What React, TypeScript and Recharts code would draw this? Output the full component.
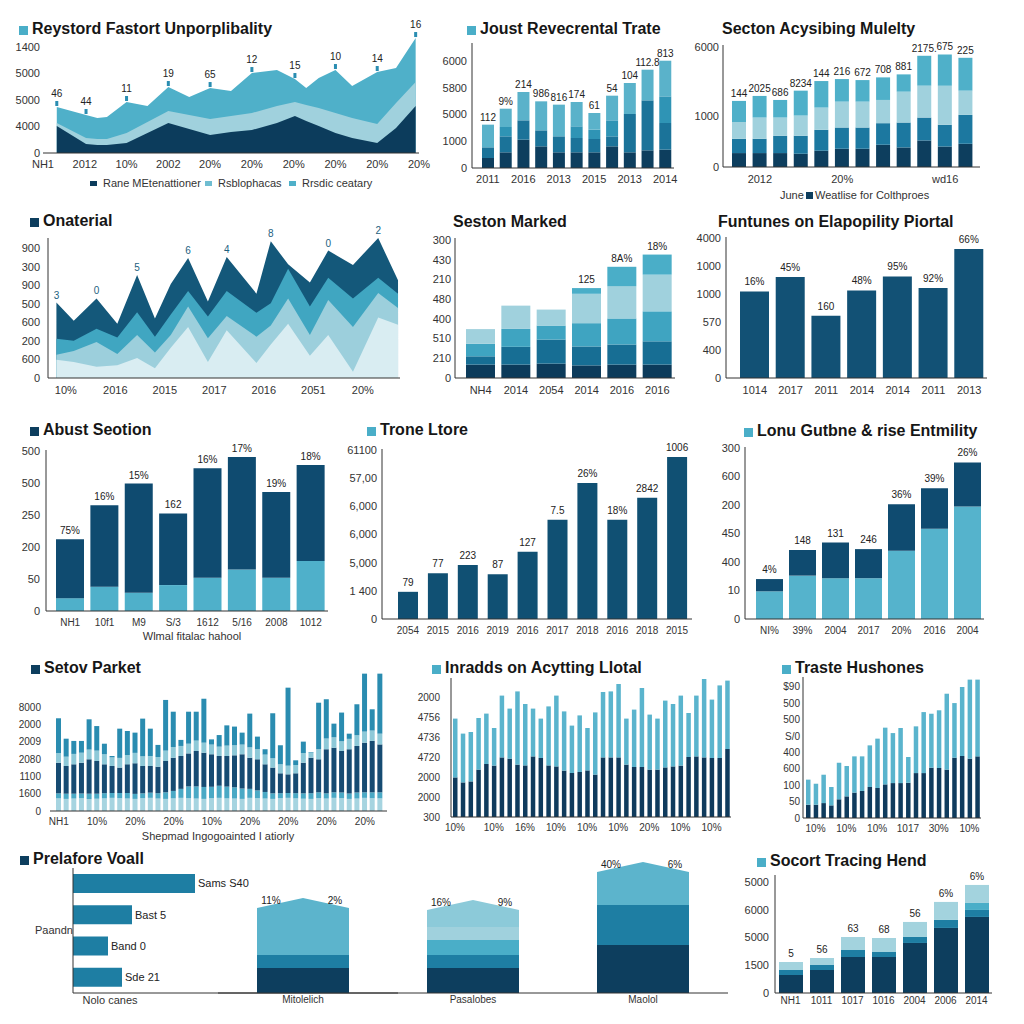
import React from 'react';
import { AreaChart, Area, BarChart, Bar, XAxis, YAxis, LabelList, Cell } from 'recharts';

const FONT = '"Liberation Sans", Arial, sans-serif';
const NAVY = '#0d3e5e';
const MID = '#1c78a0';
const TEAL = '#4aaec8';
const PALE = '#a0d1dd';
const INK = '#333';
const MT = 16; // room above each plot for value tags

// ---- panel 1: Reystord Fastort Unporplibality (area) ----
const p1X = [0.33, 1.03, 1.3, 1.53, 2, 2.5, 3, 3.5, 4, 4.5, 5, 5.6, 6.03, 6.3, 6.6, 7, 7.4, 8, 8.45, 8.92];
const p1Top = [1735, 1433, 1320, 1357, 1923, 1772, 2488, 2111, 2450, 2337, 3016, 3129, 2790, 2450, 2828, 3129, 2526, 3054, 3205, 4336];
const p1Mid = [1131, 565, 528, 528, 754, 1169, 1583, 1433, 1282, 1395, 1508, 1772, 1923, 1810, 1697, 1508, 1320, 1093, 1885, 2677];
const p1Dark = [1018, 339, 302, 302, 377, 754, 1131, 905, 679, 792, 867, 1131, 1395, 1206, 1018, 754, 565, 377, 943, 1772];
const p1Tags = ['46', '44', '', '', '11', '', '19', '', '65', '', '12', '', '15', '', '', '10', '', '14', '', '16'];
const p1XTicks = [0, 1, 2, 3, 4, 5, 6, 7, 8, 9];
const p1XLabels = ['NH1', '2012', '10%', '2002', '20%', '20%', '20%', '20%', '20%', '20%'];
const p1YTicks = [0, 1000, 2000, 3000, 4000];
const p1YLabels = ['0', '4000', '5000', '5000', '1400'];
const p1Legend = ['Rane MEtenattioner', 'Rsblophacas', 'Rrsdic ceatary'];

// ---- panel 2: Joust Revecrental Trate ----
const p2S1 = [374, 587, 1061, 811, 587, 587, 587, 811, 587, 661, 686];
const p2S2 = [400, 599, 724, 599, 599, 537, 499, 374, 1435, 1872, 998];
const p2S3 = [0, 349, 0, 0, 0, 437, 349, 599, 0, 0, 998];
const p2S4 = [849, 686, 1061, 1086, 1186, 911, 624, 924, 1161, 1148, 1335];
const p2Tags = ['112', '9%', '214', '986', '816', '174', '61', '54', '104', '112.8', '813'];
const p2XLabels = ['2011', '', '2016', '', '2013', '', '2015', '', '2013', '', '2014'];
const p2YTicks = [0, 1000, 2000, 3000, 4000];
const p2YLabels = ['0', '1000', '5000', '5800', '6000'];

// ---- panel 3: Secton Acysibing Mulelty ----
const p3S1 = [274, 274, 274, 261, 320, 359, 359, 438, 385, 522, 405, 457];
const p3S2 = [281, 281, 340, 353, 411, 418, 418, 424, 490, 451, 424, 568];
const p3S3 = [327, 418, 359, 398, 438, 509, 509, 457, 607, 627, 771, 477];
const p3S4 = [418, 425, 346, 490, 522, 444, 424, 444, 340, 588, 614, 646];
const p3Tags = ['144', '2025', '686', '8234', '144', '216', '672', '708', '881', '2175.', '675', '225'];
const p3XLabels = ['', '2012', '', '', '', '20%', '', '', '', '', 'wd16', ''];
const p3YTicks = [0, 1000, 2350];
const p3YLabels = ['0', '1000', '6000'];

// ---- panel 4: Onaterial (area) ----
const p4X = [-0.19, 0.16, 0.62, 1.04, 1.44, 1.8, 2.12, 2.47, 2.87, 3.25, 3.85, 4.14, 4.49, 4.93, 5.3, 5.8, 6.31, 6.71];
const p4A = [407, 309, 429, 292, 555, 321, 507, 647, 412, 652, 455, 738, 613, 515, 687, 610, 755, 527];
const p4B = [211, 201, 266, 218, 355, 223, 343, 469, 331, 469, 352, 403, 589, 386, 541, 429, 541, 455];
const p4C = [125, 146, 194, 129, 232, 137, 232, 386, 215, 335, 223, 283, 429, 232, 421, 275, 458, 378];
const p4D = [98, 86, 60, 69, 108, 52, 163, 275, 86, 258, 81, 180, 292, 120, 232, 34, 326, 287];
const p4Tags = ['3', '', '0', '', '5', '', '', '6', '', '4', '', '8', '', '', '0', '', '2', ''];
const p4XTicks = [0, 1, 2, 3, 4, 5, 6];
const p4XLabels = ['10%', '2016', '2015', '2017', '2016', '2051', '20%'];
const p4YTicks = [0, 100, 200, 300, 400, 500, 600, 700];
const p4YLabels = ['0', '600', '200', '600', '500', '900', '300', '900'];

// ---- panel 5: Seston Marked ----
const p5S1 = [68, 68, 73, 64, 68, 68];
const p5S2 = [42, 90, 122, 96, 102, 118];
const p5S3 = [64, 91, 71, 118, 132, 152];
const p5S4 = [74, 118, 81, 149, 164, 186];
const p5S5 = [0, 0, 0, 29, 98, 102];
const p5Tags = ['535', '16%', '28%', '125', '8A%', '18%'];
const p5XLabels = ['NH4', '2014', '2054', '2014', '2016', '2016'];
const p5YTicks = [0, 100, 200, 300, 400, 500, 600, 700];
const p5YLabels = ['0', '210', '510', '400', '480', '210', '430', '300'];

// ---- panel 6: Funtunes on Elapopility Piortal ----
const p6Vals = [3095, 3607, 2226, 3131, 3631, 3214, 4607];
const p6Tags = ['16%', '45%', '160', '48%', '95%', '92%', '66%'];
const p6XLabels = ['1014', '2017', '2011', '2014', '2014', '2011', '2013'];
const p6YTicks = [0, 1000, 2000, 3000, 4000, 5000];
const p6YLabels = ['0', '400', '570', '1000', '1000', '4000'];

// ---- panel 7: Abust Seotion ----
const p7Light = [40, 76, 57, 81, 104, 130, 104, 156];
const p7Total = [224, 330, 398, 305, 446, 481, 372, 456];
const p7Tags = ['75%', '16%', '15%', '162', '16%', '17%', '19%', '18%'];
const p7XLabels = ['NH1', '10f1', 'M9', 'S/3', '1612', '5/16', '2008', '1012'];
const p7YTicks = [0, 100, 200, 300, 400, 500];
const p7YLabels = ['0', '50', '200', '250', '500', '500'];

// ---- panel 8: Trone Ltore ----
const p8Vals = [964, 1619, 1917, 1583, 2381, 3524, 4821, 3524, 4298, 5750];
const p8Tags = ['79', '77', '223', '87', '127', '7.5', '26%', '18%', '2842', '1006'];
const p8XLabels = ['2054', '2015', '2016', '2019', '2016', '2017', '2018', '2016', '2018', '2015'];
const p8YTicks = [0, 1000, 2000, 3000, 4000, 5000, 6000];
const p8YLabels = ['0', '1 400', '5,000', '6,000', '6,000', '57,00', '61100'];

// ---- panel 9: Lonu Gutbne & rise Entmility ----
const p9Light = [97, 152, 143, 143, 239, 316, 394];
const p9Total = [140, 242, 268, 245, 402, 458, 549];
const p9Tags = ['4%', '148', '131', '246', '36%', '39%', '26%'];
const p9XLabels = ['NI%', '39%', '2004', '2017', '20%', '2016', '2004'];
const p9YTicks = [0, 100, 200, 300, 400, 500, 600];
const p9YLabels = ['0', '10', '400', '450', '200', '600', '300'];

// ---- panel 10: Setov Parket ----
const p10Total = [5360, 4180, 4050, 4050, 5300, 4910, 3890, 3180, 4760, 4630, 4530, 5340, 4760, 3820, 6420, 5740, 4110, 5740, 5740, 6490, 4140, 4390, 4950, 4880, 4530, 5630, 4300, 3570, 5650, 3800, 7130, 2930, 4010, 3410, 6260, 6460, 5050, 5690, 4470, 6170, 7940, 5880, 7940];
const p10NavyTop = [2790, 2600, 2700, 2790, 2990, 2890, 2700, 2600, 2510, 2700, 2760, 2600, 2600, 2560, 2890, 3080, 3180, 3330, 3470, 3370, 3280, 3180, 3180, 3220, 3280, 3080, 2990, 2700, 2510, 2180, 2120, 2180, 2790, 3080, 2990, 3570, 3660, 3470, 3570, 3760, 3950, 4050, 3850];
const p10Base = [730, 700, 720, 740, 690, 710, 730, 760, 740, 720, 700, 740, 760, 720, 700, 730, 760, 740, 720, 700, 740, 760, 730, 720, 700, 760, 740, 720, 700, 740, 760, 730, 710, 700, 740, 720, 760, 740, 700, 720, 760, 740, 730];
const p10Band = [290, 300, 280, 270, 310, 290, 300, 280, 300, 320, 290, 280, 300, 310, 380, 430, 520, 680, 700, 690, 660, 700, 680, 650, 600, 520, 450, 380, 320, 290, 280, 300, 310, 330, 340, 300, 320, 330, 310, 350, 320, 340, 350];
const p10Pale = [560, 540, 600, 580, 560, 600, 580, 500, 560, 540, 600, 560, 580, 560, 600, 620, 580, 560, 600, 580, 560, 540, 600, 580, 560, 600, 580, 560, 540, 520, 500, 480, 560, 300, 580, 620, 600, 560, 600, 620, 640, 600, 620];
const p10TickIdx = [0, 5, 10, 15, 20, 25, 30, 35, 40];
const p10TickLab = ['NH1', '10%', '20%', '20%', '10%', '20%', '20%', '20%', '20%'];
const p10YTicks = [0, 1000, 2000, 3000, 4000, 5000, 6000];
const p10YLabels = ['0', '1600', '1100', '2080', '2009', '2000', '8000'];

// ---- panel 11: Inradds on Acytting Llotal ----
const p11Total = [4920, 4170, 4250, 4950, 5170, 4450, 6070, 5420, 6280, 5650, 5420, 4920, 5530, 6070, 5280, 4570, 5080, 4450, 5230, 6250, 6280, 6650, 4920, 5370, 6450, 5120, 4920, 5820, 5650, 6070, 5200, 6070, 6900, 5870, 6580, 6820];
const p11Navy = [1980, 1730, 1780, 2370, 2650, 2570, 2980, 2920, 2620, 2580, 3030, 2950, 2580, 2530, 2320, 2200, 2250, 2330, 2120, 2980, 2980, 2980, 2620, 2500, 2500, 2370, 2370, 2480, 2530, 2570, 3000, 3030, 2980, 2950, 2950, 3400];
const p11TickIdx = [0, 5, 9, 13, 17, 21, 25, 29, 33];
const p11TickLab = ['10%', '10%', '16%', '10%', '10%', '10%', '20%', '10%', '10%'];
const p11YTicks = [0, 1000, 2000, 3000, 4000, 5000, 6000];
const p11YLabels = ['300', '2000', '2000', '4720', '4736', '4756', '2000'];

// ---- panel 12: Traste Hushones ----
const p12Total = [234, 209, 264, 189, 337, 317, 376, 376, 443, 484, 551, 518, 549, 372, 559, 646, 636, 657, 758, 701, 799, 844, 844];
const p12Navy = [81, 81, 91, 77, 114, 132, 155, 165, 189, 183, 205, 213, 213, 215, 274, 274, 307, 305, 295, 368, 378, 362, 376];
const p12TickIdx = [1, 5, 9, 13, 17, 21];
const p12TickLab = ['10%', '10%', '10%', '1017', '30%', '10%'];
const p12YTicks = [0, 100, 200, 300, 400, 500, 600, 700, 800];
const p12YLabels = ['0', '50', '100', '600', '400', 'S/0', '500', '500', '$90'];

// ---- panel 13: Prelafore Voall ----
const p13Vals = [122, 59, 35, 49];
const p13Tags = ['Sams S40', 'Bast 5', 'Band 0', 'Sde 21'];
const p14Cats = ['Mitolelich', 'Pasalobes', 'Maolol'];
const p14Navy = [25, 25, 48];
const p14Mid = [13, 13, 40];
const p14Teal = [0, 15, 0];
const p14Pale = [0, 13, 0];
const p14Top = [57, 27, 43];
const p14TopColors = ['#5cb4cc', '#8ccad9', '#5cb4cc'];
const p14LeftTags = ['11%', '16%', '40%'];
const p14RightTags = ['2%', '9%', '6%'];

// ---- panel 15: Socort Tracing Hend ----
const p15S1 = [649, 829, 1297, 1297, 1802, 2343, 2739];
const p15S2 = [180, 180, 252, 180, 216, 288, 252];
const p15S3 = [0, 0, 0, 0, 0, 0, 252];
const p15S4 = [288, 252, 469, 505, 541, 649, 649];
const p15Tags = ['5', '56', '63', '68', '56', '6%', '6%'];
const p15XLabels = ['NH1', '1011', '1017', '1016', '2004', '2006', '2014'];
const p15YTicks = [0, 1000, 2000, 3000, 4000];
const p15YLabels = ['0', '1500', '5000', '6000', '5000'];

const lab = (ticks: number[], labels: string[]) => (v: number) => labels[ticks.indexOf(v)] ?? '';
const pick = (idx: number[], labels: string[]) => (_v: any, i: number) => {
  const j = idx.indexOf(i);
  return j >= 0 ? labels[j] : '';
};
const tick11 = { fontSize: 11, fill: INK, fontFamily: FONT };
const tick10 = { fontSize: 10, fill: INK, fontFamily: FONT };
const line = { stroke: INK, strokeWidth: 1 };
const tagStyle = { fontSize: 10, fill: '#222', fontFamily: FONT };

// plotTop is where the plot area starts; the svg begins MT px higher
function Place({ left, plotTop, children }: any) {
  return <div style={{ position: 'absolute', left, top: plotTop - MT }}>{children}</div>;
}

function Title({ x, y, text, marker }: { x: number; y: number; text: string; marker?: string }) {
  return (
    <div style={{ position: 'absolute', left: x, top: y - 8, height: 22, lineHeight: '22px', whiteSpace: 'nowrap', font: `bold 16px ${FONT}`, color: '#161616' }}>
      {marker && <span style={{ position: 'absolute', left: -13, top: 6, width: 9, height: 9, background: marker }} />}
      {text}
    </div>
  );
}

function Note({ x, y, text, size = 11, center = false }: any) {
  return (
    <div style={{ position: 'absolute', left: x, top: y - 7, lineHeight: '14px', whiteSpace: 'nowrap', fontSize: size, fontFamily: FONT, color: INK, transform: center ? 'translateX(-50%)' : undefined }}>
      {text}
    </div>
  );
}

function Swatch({ x, y, color, w = 7, h = 5 }: any) {
  return <div style={{ position: 'absolute', left: x, top: y - h / 2, width: w, height: h, background: color }} />;
}

const makeDot = (tags: string[], marker: boolean) => (p: any) => {
  const { cx, cy, index } = p;
  const t = tags[index];
  if (!t) return <g key={index} />;
  return (
    <g key={index}>
      {marker && <rect x={cx - 1.5} y={cy - 6} width={3} height={5} fill="#2a8db1" />}
      <text x={cx} y={cy - (marker ? 10 : 4)} textAnchor="middle" {...tagStyle} fill={marker ? '#222' : '#1d5f80'}>{t}</text>
    </g>
  );
};

const House = (p: any) => {
  const { x, y, width, height, fill, index } = p;
  if (!height) return <g />;
  const d = 10;
  const pts = `${x},${y + height} ${x},${y + d} ${x + width / 2},${y} ${x + width},${y + d} ${x + width},${y + height}`;
  return (
    <g>
      <polygon points={pts} fill={fill} />
      <text x={x + 14} y={y + d - 4} textAnchor="middle" {...tagStyle}>{p14LeftTags[index]}</text>
      <text x={x + width - 14} y={y + d - 4} textAnchor="middle" {...tagStyle}>{p14RightTags[index]}</text>
    </g>
  );
};

export default function App() {
  const p1Data = p1X.map((x, i) => ({ x, top: p1Top[i], mid: p1Mid[i], dark: p1Dark[i] }));
  const p2Data = p2S1.map((v, i) => ({ k: i, s1: v, s2: p2S2[i], s3: p2S3[i], s4: p2S4[i], tag: p2Tags[i] }));
  const p3Data = p3S1.map((v, i) => ({ k: i, s1: v, s2: p3S2[i], s3: p3S3[i], s4: p3S4[i], tag: p3Tags[i] }));
  const p4Data = p4X.map((x, i) => ({ x, a: p4A[i], b: p4B[i], c: p4C[i], d: p4D[i] }));
  const p5Data = p5S1.map((v, i) => ({ k: i, s1: v, s2: p5S2[i], s3: p5S3[i], s4: p5S4[i], s5: p5S5[i], tag: p5Tags[i] }));
  const p6Data = p6Vals.map((v, i) => ({ k: i, v, tag: p6Tags[i] }));
  const p7Data = p7Total.map((t, i) => ({ k: i, light: p7Light[i], navy: t - p7Light[i], tag: p7Tags[i] }));
  const p8Data = p8Vals.map((v, i) => ({ k: i, v, tag: p8Tags[i] }));
  const p9Data = p9Total.map((t, i) => ({ k: i, light: p9Light[i], navy: t - p9Light[i], tag: p9Tags[i] }));
  const p10Data = p10Total.map((t, i) => ({
    k: i,
    s1: p10Base[i],
    s2: p10Band[i],
    s3: p10NavyTop[i] - p10Base[i] - p10Band[i],
    s4: p10Pale[i],
    s5: t - p10NavyTop[i] - p10Pale[i],
  }));
  const p11Data = p11Total.map((t, i) => ({ k: i, navy: p11Navy[i], light: t - p11Navy[i] }));
  const p12Data = p12Total.map((t, i) => ({ k: i, navy: p12Navy[i], light: t - p12Navy[i] }));
  const p13Data = p13Vals.map((v, i) => ({ k: i, v, tag: p13Tags[i] }));
  const p14Data = p14Cats.map((c, i) => ({ c, s1: p14Navy[i], s2: p14Mid[i], s3: p14Teal[i], s4: p14Pale[i], s5: p14Top[i] }));
  const p15Data = p15S1.map((v, i) => ({ k: i, s1: v, s2: p15S2[i], s3: p15S3[i], s4: p15S4[i], tag: p15Tags[i] }));

  const noAnim = { isAnimationActive: false };
  const m = (right: number) => ({ top: MT, right, bottom: 0, left: 0 });

  return (
    <div style={{ position: 'relative', width: 1024, height: 1024, background: '#fff', overflow: 'hidden', fontFamily: FONT }}>
      <style>{'body{margin:0}'}</style>

      {/* Row 1 */}
      <Title x={32} y={28} text="Reystord Fastort Unporplibality" marker={TEAL} />
      <Place left={0} plotTop={35}>
        <AreaChart width={436} height={118 + 20 + MT} data={p1Data} margin={m(17)}>
          <XAxis type="number" dataKey="x" domain={[0, 9]} ticks={p1XTicks} interval={0} tickFormatter={lab(p1XTicks, p1XLabels)} tick={tick11} tickLine={false} tickSize={0} tickMargin={7} axisLine={line} height={20} />
          <YAxis domain={[0, 4450]} ticks={p1YTicks} interval={0} tickFormatter={lab(p1YTicks, p1YLabels)} tick={tick11} tickLine={false} tickSize={0} tickMargin={3} axisLine={false} width={43} />
          <Area type="linear" dataKey="top" fill="#4fb0c9" fillOpacity={1} stroke="none" dot={makeDot(p1Tags, true)} {...noAnim} />
          <Area type="linear" dataKey="mid" fill={PALE} fillOpacity={1} stroke="none" dot={false} {...noAnim} />
          <Area type="linear" dataKey="dark" fill="#0c3c5c" fillOpacity={1} stroke="none" dot={false} {...noAnim} />
        </AreaChart>
      </Place>
      <Swatch x={90} y={183} color="#0c3c5c" />
      <Note x={103} y={183} text={p1Legend[0]} />
      <Swatch x={205} y={183} color="#6fbdd1" />
      <Note x={218} y={183} text={p1Legend[1]} />
      <Swatch x={289} y={183} color="#4fb0c9" />
      <Note x={302} y={183} text={p1Legend[2]} />

      <Title x={480} y={28} text="Joust Revecrental Trate" marker={TEAL} />
      <Place left={430} plotTop={43}>
        <BarChart width={248} height={125 + 20 + MT} data={p2Data} margin={m(4)} barSize={12}>
          <XAxis dataKey="k" interval={0} tickFormatter={(_v: any, i: number) => p2XLabels[i]} tick={tick11} tickLine={false} tickSize={0} tickMargin={7} axisLine={line} height={20} padding={{ left: 7, right: 0 }} />
          <YAxis domain={[0, 4680]} ticks={p2YTicks} interval={0} tickFormatter={lab(p2YTicks, p2YLabels)} tick={tick11} tickLine={false} tickSize={0} tickMargin={5} axisLine={line} width={42} />
          <Bar dataKey="s1" stackId="a" fill={NAVY} {...noAnim} />
          <Bar dataKey="s2" stackId="a" fill="#1b7399" {...noAnim} />
          <Bar dataKey="s3" stackId="a" fill="#2f94b5" {...noAnim} />
          <Bar dataKey="s4" stackId="a" fill="#5ab2ca" {...noAnim}>
            <LabelList dataKey="tag" position="top" offset={4} {...tagStyle} />
          </Bar>
        </BarChart>
      </Place>

      <Title x={722} y={28} text="Secton Acysibing Mulelty" />
      <Place left={688} plotTop={45}>
        <BarChart width={296} height={122 + 20 + MT} data={p3Data} margin={m(4)} barSize={14}>
          <XAxis dataKey="k" interval={0} tickFormatter={(_v: any, i: number) => p3XLabels[i]} tick={tick11} tickLine={false} tickSize={0} tickMargin={8} axisLine={line} height={20} padding={{ left: 6, right: 4 }} />
          <YAxis domain={[0, 2400]} ticks={p3YTicks} interval={0} tickFormatter={lab(p3YTicks, p3YLabels)} tick={tick11} tickLine={false} tickSize={0} tickMargin={4} axisLine={line} width={35} />
          <Bar dataKey="s1" stackId="a" fill={NAVY} {...noAnim} />
          <Bar dataKey="s2" stackId="a" fill={MID} {...noAnim} />
          <Bar dataKey="s3" stackId="a" fill={PALE} {...noAnim} />
          <Bar dataKey="s4" stackId="a" fill="#4fb0c9" {...noAnim}>
            <LabelList dataKey="tag" position="top" offset={4} {...tagStyle} />
          </Bar>
        </BarChart>
      </Place>
      <Note x={780} y={195} text="June" />
      <Swatch x={806} y={195} color={NAVY} w={7} h={7} />
      <Note x={815} y={195} text="Weatlise for Colthproes" />

      {/* Row 2 */}
      <Title x={43} y={220} text="Onaterial" marker={NAVY} />
      <Place left={0} plotTop={238}>
        <AreaChart width={404} height={140 + 22 + MT} data={p4Data} margin={m(4)}>
          <XAxis type="number" dataKey="x" domain={[-0.36, 6.75]} ticks={p4XTicks} interval={0} tickFormatter={lab(p4XTicks, p4XLabels)} tick={tick11} tickLine={false} tickSize={0} tickMargin={8} axisLine={line} height={22} />
          <YAxis domain={[0, 720]} ticks={p4YTicks} interval={0} tickFormatter={lab(p4YTicks, p4YLabels)} tick={tick11} tickLine={false} tickSize={0} tickMargin={8} axisLine={line} width={48} />
          <Area type="linear" dataKey="a" fill="#14587a" fillOpacity={1} stroke="none" dot={makeDot(p4Tags, false)} {...noAnim} />
          <Area type="linear" dataKey="b" fill="#40a6c1" fillOpacity={1} stroke="none" dot={false} {...noAnim} />
          <Area type="linear" dataKey="c" fill="#9ccfdc" fillOpacity={1} stroke="none" dot={false} {...noAnim} />
          <Area type="linear" dataKey="d" fill="#d9edf2" fillOpacity={1} stroke="none" dot={false} {...noAnim} />
        </AreaChart>
      </Place>

      <Title x={453} y={221} text="Seston Marked" />
      <Place left={420} plotTop={238}>
        <BarChart width={259} height={140 + 22 + MT} data={p5Data} margin={m(4)} barSize={29}>
          <XAxis dataKey="k" interval={0} tickFormatter={(_v: any, i: number) => p5XLabels[i]} tick={tick11} tickLine={false} tickSize={0} tickMargin={8} axisLine={line} height={22} padding={{ left: 8, right: 0 }} />
          <YAxis domain={[0, 710]} ticks={p5YTicks} interval={0} tickFormatter={lab(p5YTicks, p5YLabels)} tick={tick11} tickLine={false} tickSize={0} tickMargin={4} axisLine={line} width={35} />
          <Bar dataKey="s1" stackId="a" fill="#0c3b5b" {...noAnim} />
          <Bar dataKey="s2" stackId="a" fill="#176e94" {...noAnim} />
          <Bar dataKey="s3" stackId="a" fill="#3fa4c1" {...noAnim} />
          <Bar dataKey="s4" stackId="a" fill={PALE} {...noAnim} />
          <Bar dataKey="s5" stackId="a" fill="#4aaec8" {...noAnim}>
            <LabelList dataKey="tag" position="top" offset={5} {...tagStyle} />
          </Bar>
        </BarChart>
      </Place>

      <Title x={718} y={221} text="Funtunes on Elapopility Piortal" />
      <Place left={686} plotTop={237}>
        <BarChart width={305} height={141 + 22 + MT} data={p6Data} margin={m(4)} barSize={29}>
          <XAxis dataKey="k" interval={0} tickFormatter={(_v: any, i: number) => p6XLabels[i]} tick={tick11} tickLine={false} tickSize={0} tickMargin={8} axisLine={line} height={22} padding={{ left: 11, right: 0 }} />
          <YAxis domain={[0, 5040]} ticks={p6YTicks} interval={0} tickFormatter={lab(p6YTicks, p6YLabels)} tick={tick11} tickLine={false} tickSize={0} tickMargin={5} axisLine={line} width={40} />
          <Bar dataKey="v" fill="#125175" {...noAnim}>
            <LabelList dataKey="tag" position="top" offset={6} {...tagStyle} />
          </Bar>
        </BarChart>
      </Place>

      {/* Row 3 */}
      <Title x={43} y={429} text="Abust Seotion" marker={NAVY} />
      <Place left={0} plotTop={450}>
        <BarChart width={332} height={161 + 20 + MT} data={p7Data} margin={m(4)} barSize={28}>
          <XAxis dataKey="k" interval={0} tickFormatter={(_v: any, i: number) => p7XLabels[i]} tick={tick10} tickLine={false} tickSize={0} tickMargin={8} axisLine={line} height={20} padding={{ left: 7, right: 0 }} />
          <YAxis domain={[0, 503]} ticks={p7YTicks} interval={0} tickFormatter={lab(p7YTicks, p7YLabels)} tick={tick11} tickLine={false} tickSize={0} tickMargin={6} axisLine={line} width={46} />
          <Bar dataKey="light" stackId="a" fill="#4fb0ca" {...noAnim} />
          <Bar dataKey="navy" stackId="a" fill="#0f4b70" {...noAnim}>
            <LabelList dataKey="tag" position="top" offset={5} {...tagStyle} />
          </Bar>
        </BarChart>
      </Place>
      <Note x={192} y={636} text="Wlmal fitalac hahool" center />

      <Title x={380} y={429} text="Trone Ltore" marker={TEAL} />
      <Place left={340} plotTop={449}>
        <BarChart width={356} height={170 + 22 + MT} data={p8Data} margin={m(4)} barSize={20}>
          <XAxis dataKey="k" interval={0} tickFormatter={(_v: any, i: number) => p8XLabels[i]} tick={tick10} tickLine={false} tickSize={0} tickMargin={8} axisLine={line} height={22} padding={{ left: 11, right: 0 }} />
          <YAxis domain={[0, 6030]} ticks={p8YTicks} interval={0} tickFormatter={lab(p8YTicks, p8YLabels)} tick={tick11} tickLine={false} tickSize={0} tickMargin={5} axisLine={line} width={42} />
          <Bar dataKey="v" fill="#105073" {...noAnim}>
            <LabelList dataKey="tag" position="top" offset={6} {...tagStyle} />
          </Bar>
        </BarChart>
      </Place>

      <Title x={757} y={430} text="Lonu Gutbne & rise Entmility" marker={TEAL} />
      <Place left={705} plotTop={447}>
        <BarChart width={283} height={172 + 22 + MT} data={p9Data} margin={m(4)} barSize={27}>
          <XAxis dataKey="k" interval={0} tickFormatter={(_v: any, i: number) => p9XLabels[i]} tick={tick10} tickLine={false} tickSize={0} tickMargin={8} axisLine={line} height={22} padding={{ left: 8, right: 0 }} />
          <YAxis domain={[0, 603]} ticks={p9YTicks} interval={0} tickFormatter={lab(p9YTicks, p9YLabels)} tick={tick11} tickLine={false} tickSize={0} tickMargin={5} axisLine={line} width={40} />
          <Bar dataKey="light" stackId="a" fill="#55b3cc" {...noAnim} />
          <Bar dataKey="navy" stackId="a" fill="#0f4b70" {...noAnim}>
            <LabelList dataKey="tag" position="top" offset={6} {...tagStyle} />
          </Bar>
        </BarChart>
      </Place>

      {/* Row 4 */}
      <Title x={44} y={667} text="Setov Parket" marker={NAVY} />
      <Place left={0} plotTop={672}>
        <BarChart width={391} height={139 + 20 + MT} data={p10Data} margin={m(4)} barSize={5}>
          <XAxis dataKey="k" interval={0} tickFormatter={pick(p10TickIdx, p10TickLab)} tick={tick10} tickLine={false} tickSize={0} tickMargin={7} axisLine={line} height={20} padding={{ left: 5, right: 3 }} />
          <YAxis domain={[0, 8035]} ticks={p10YTicks} interval={0} tickFormatter={lab(p10YTicks, p10YLabels)} tick={tick10} tickLine={false} tickSize={0} tickMargin={9} axisLine={false} width={50} />
          <Bar dataKey="s1" stackId="a" fill="#a6d4e0" {...noAnim} />
          <Bar dataKey="s2" stackId="a" fill="#4aa9c5" {...noAnim} />
          <Bar dataKey="s3" stackId="a" fill="#164b72" {...noAnim} />
          <Bar dataKey="s4" stackId="a" fill="#8ec9d8" {...noAnim} />
          <Bar dataKey="s5" stackId="a" fill="#2a8cb0" {...noAnim} />
        </BarChart>
      </Place>
      <Note x={218} y={836} text="Shepmad Ingogoainted I atiorly" center />

      <Title x={445} y={667} text="Inradds on Acytting Llotal" marker={TEAL} />
      <Place left={406} plotTop={678}>
        <BarChart width={329} height={139 + 20 + MT} data={p11Data} margin={m(4)} barSize={4.5}>
          <XAxis dataKey="k" interval={0} tickFormatter={pick(p11TickIdx, p11TickLab)} tick={tick10} tickLine={false} tickSize={0} tickMargin={7} axisLine={line} height={20} padding={{ left: 0, right: 0 }} />
          <YAxis domain={[0, 6950]} ticks={p11YTicks} interval={0} tickFormatter={lab(p11YTicks, p11YLabels)} tick={tick10} tickLine={false} tickSize={0} tickMargin={11} axisLine={line} width={45} />
          <Bar dataKey="navy" stackId="a" fill="#0f3b5d" {...noAnim} />
          <Bar dataKey="light" stackId="a" fill="#5ab4cd" {...noAnim} />
        </BarChart>
      </Place>

      <Title x={795} y={667} text="Traste Hushones" marker={TEAL} />
      <Place left={763} plotTop={677}>
        <BarChart width={222} height={141 + 20 + MT} data={p12Data} margin={m(4)} barSize={4.5}>
          <XAxis dataKey="k" interval={0} tickFormatter={pick(p12TickIdx, p12TickLab)} tick={tick10} tickLine={false} tickSize={0} tickMargin={7} axisLine={line} height={20} padding={{ left: 1, right: 0 }} />
          <YAxis domain={[0, 860]} ticks={p12YTicks} interval={0} tickFormatter={lab(p12YTicks, p12YLabels)} tick={tick10} tickLine={false} tickSize={0} tickMargin={3} axisLine={line} width={40} />
          <Bar dataKey="navy" stackId="a" fill="#0f3b5d" {...noAnim} />
          <Bar dataKey="light" stackId="a" fill="#5ab4cd" {...noAnim} />
        </BarChart>
      </Place>

      {/* Row 5 */}
      <Title x={33} y={858} text="Prelafore Voall" marker={NAVY} />
      <Place left={70} plotTop={868}>
        <BarChart layout="vertical" width={328} height={125 + 2 + MT} data={p13Data} margin={m(0)} barSize={19}>
          <XAxis type="number" domain={[0, 325]} tick={false} tickLine={false} axisLine={line} height={2} />
          <YAxis type="category" dataKey="k" tick={false} tickLine={false} axisLine={line} width={3} />
          <Bar dataKey="v" fill="#1e7ea3" {...noAnim}>
            <LabelList dataKey="tag" position="right" offset={3} fontSize={11} fill="#222" fontFamily={FONT} />
          </Bar>
        </BarChart>
      </Place>
      <Note x={35} y={930} text="Paandn" />
      <Note x={110} y={1000} text="Nolo canes" center />
      <Place left={218} plotTop={853}>
        <BarChart width={512} height={140 + 16 + MT} data={p14Data} margin={m(2)} barSize={92}>
          <XAxis dataKey="c" interval={0} tick={tick10} tickLine={false} tickSize={0} tickMargin={3} axisLine={line} height={16} />
          <YAxis hide domain={[0, 140]} />
          <Bar dataKey="s1" stackId="a" fill={NAVY} {...noAnim} />
          <Bar dataKey="s2" stackId="a" fill="#1e7ea3" {...noAnim} />
          <Bar dataKey="s3" stackId="a" fill="#4aaec8" {...noAnim} />
          <Bar dataKey="s4" stackId="a" fill={PALE} {...noAnim} />
          <Bar dataKey="s5" stackId="a" shape={House} {...noAnim}>
            {p14Cats.map((c, i) => <Cell key={c} fill={p14TopColors[i]} />)}
          </Bar>
        </BarChart>
      </Place>

      <Title x={770} y={860} text="Socort Tracing Hend" marker={TEAL} />
      <Place left={739} plotTop={875}>
        <BarChart width={256} height={118 + 18 + MT} data={p15Data} margin={m(3)} barSize={24}>
          <XAxis dataKey="k" interval={0} tickFormatter={(_v: any, i: number) => p15XLabels[i]} tick={tick10} tickLine={false} tickSize={0} tickMargin={4} axisLine={line} height={18} />
          <YAxis domain={[0, 4250]} ticks={p15YTicks} interval={0} tickFormatter={lab(p15YTicks, p15YLabels)} tick={tick11} tickLine={false} tickSize={0} tickMargin={6} axisLine={line} width={36} />
          <Bar dataKey="s1" stackId="a" fill={NAVY} {...noAnim} />
          <Bar dataKey="s2" stackId="a" fill="#1e7ea3" {...noAnim} />
          <Bar dataKey="s3" stackId="a" fill="#4aaec8" {...noAnim} />
          <Bar dataKey="s4" stackId="a" fill="#a3d3de" {...noAnim}>
            <LabelList dataKey="tag" position="top" offset={5} {...tagStyle} />
          </Bar>
        </BarChart>
      </Place>
    </div>
  );
}
